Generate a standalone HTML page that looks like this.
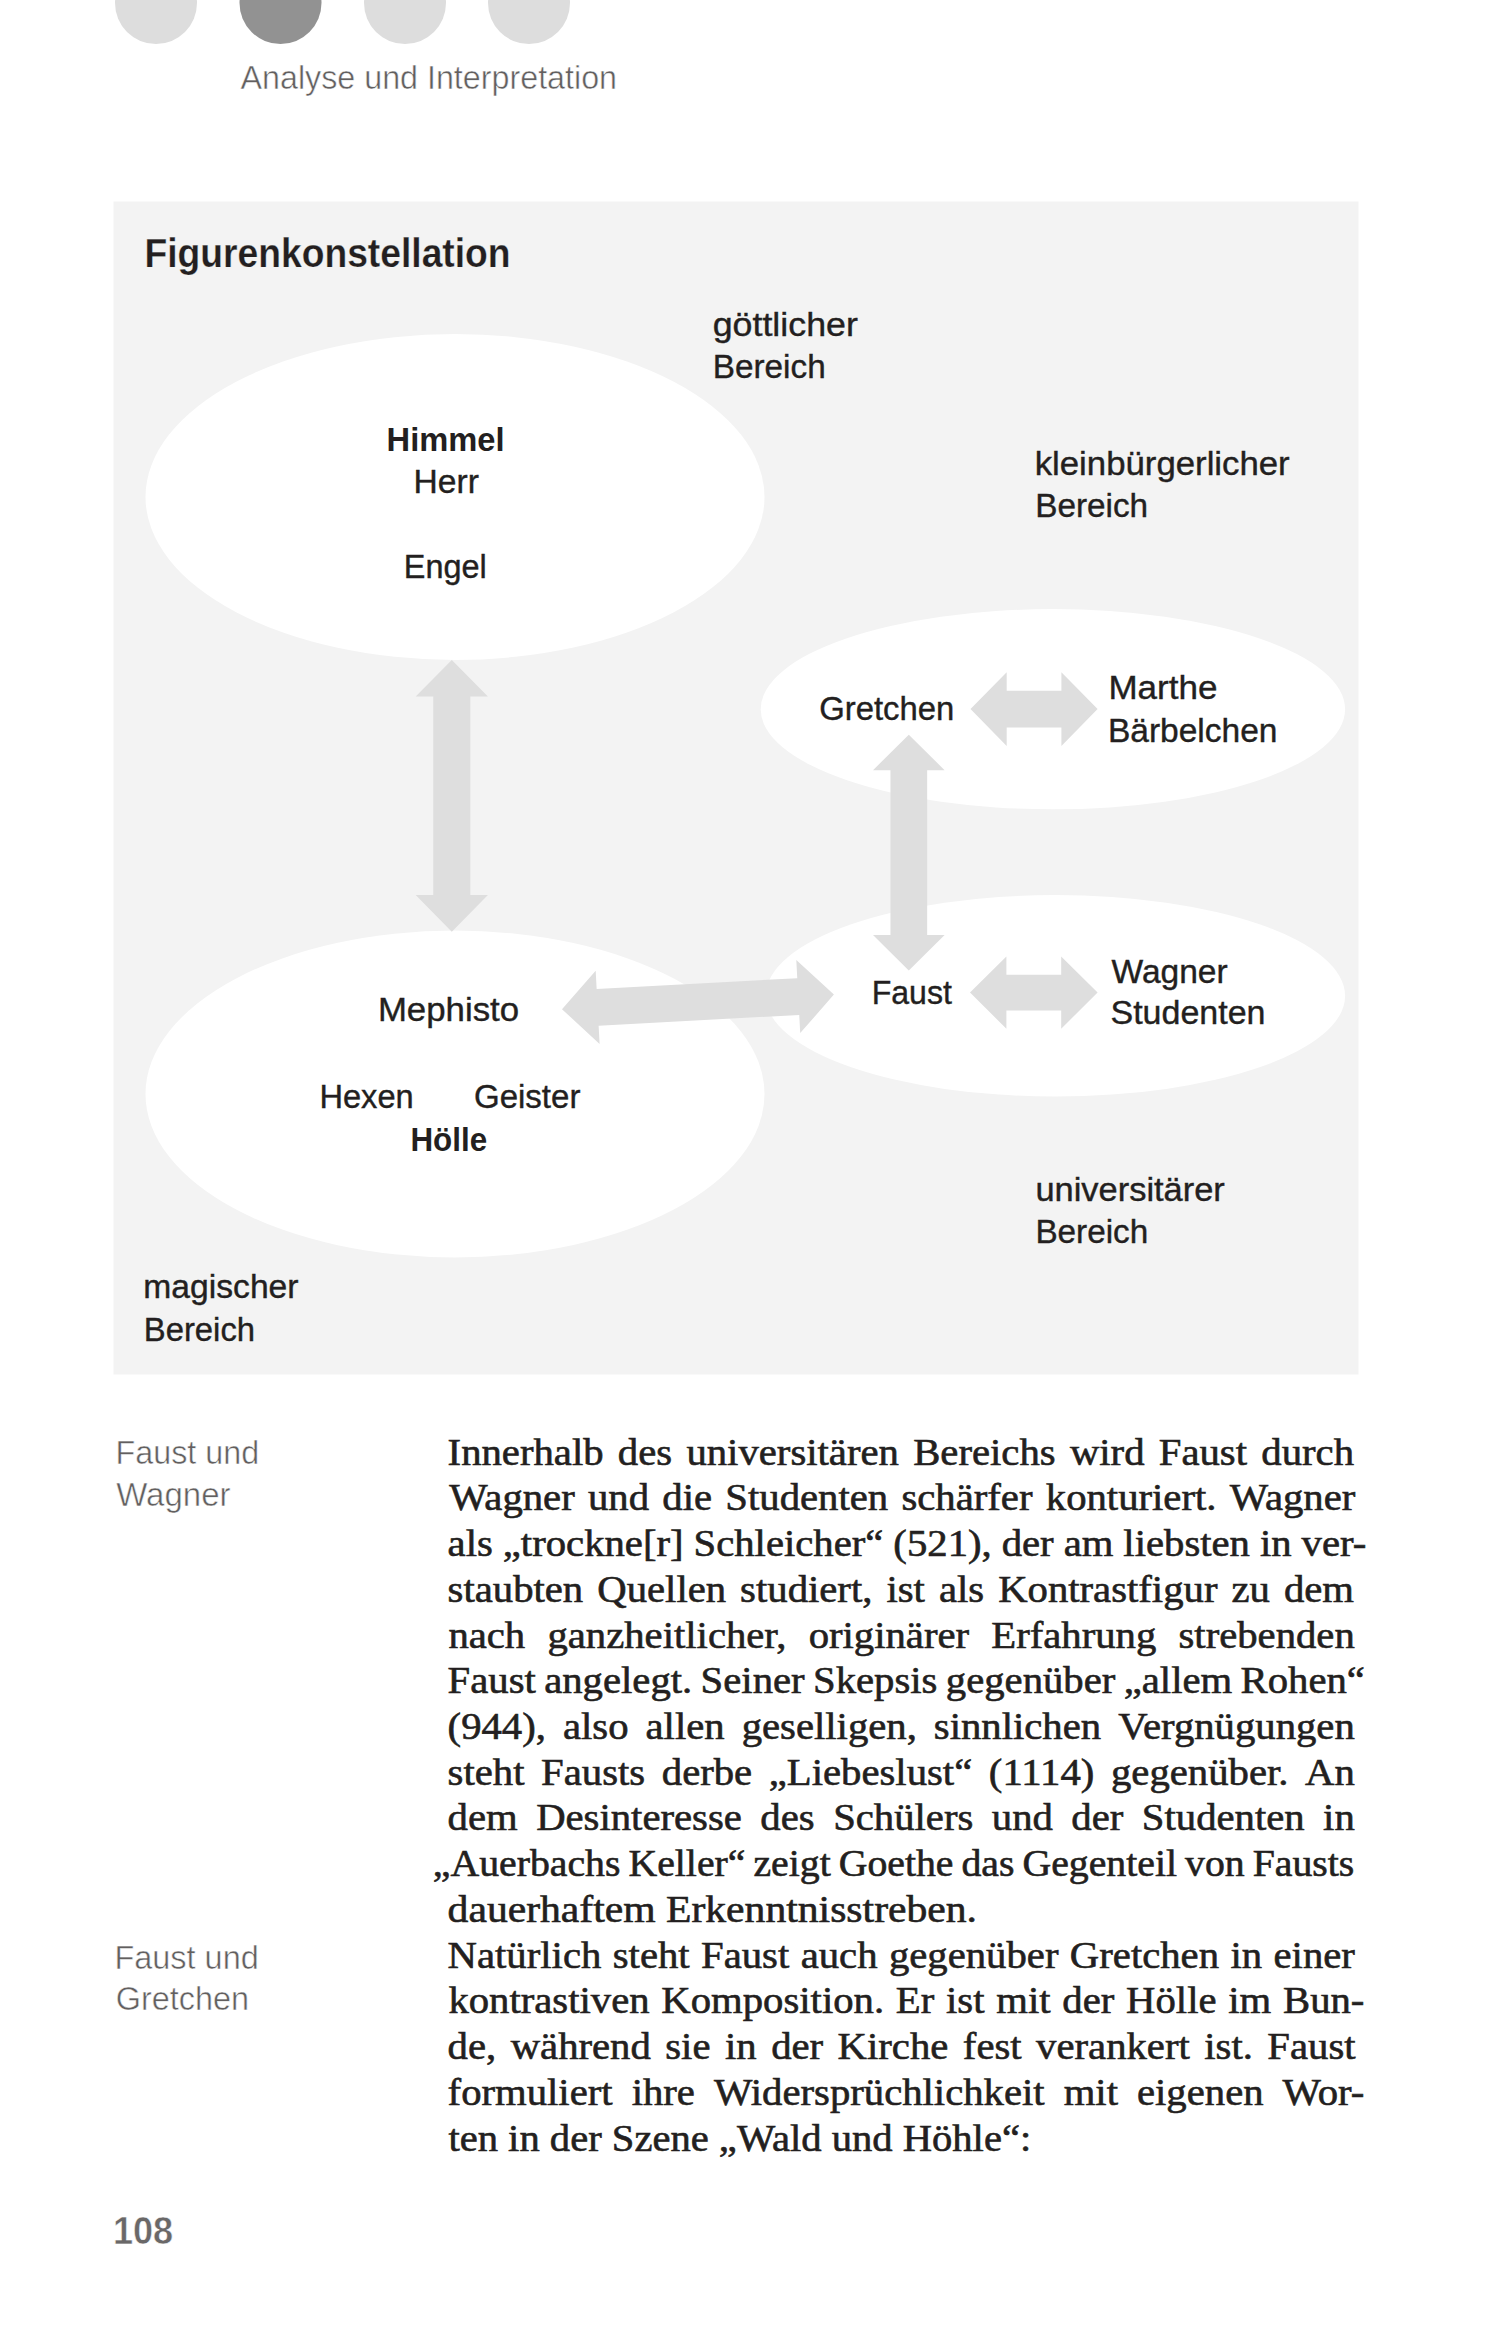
<!DOCTYPE html>
<html lang="de">
<head>
<meta charset="utf-8">
<title>Figurenkonstellation</title>
<style>
html,body{margin:0;padding:0;background:#fff;}
body{width:1496px;height:2334px;position:relative;overflow:hidden;}
svg{position:absolute;left:0;top:0;display:block;}
</style>
</head>
<body>
<svg width="1496" height="2334" viewBox="0 0 1496 2334" font-family="&quot;Liberation Sans&quot;, sans-serif">
<circle cx="156" cy="3" r="41" fill="#dddddd"/>
<circle cx="280.5" cy="3" r="41" fill="#929292"/>
<circle cx="405" cy="3" r="41" fill="#dddddd"/>
<circle cx="529" cy="3" r="41" fill="#dddddd"/>
<rect x="113.5" y="201.5" width="1245.0" height="1173.0" fill="#f3f3f3"/>
<ellipse cx="455" cy="497" rx="309.5" ry="163" fill="#fff"/>
<ellipse cx="1052.9" cy="709.2" rx="292.2" ry="100.1" fill="#fff"/>
<ellipse cx="455" cy="1094" rx="309.5" ry="163.4" fill="#fff"/>
<ellipse cx="1055.4" cy="995.8" rx="289.7" ry="100.75" fill="#fff"/>
<g fill="#dedede">
<polygon transform="translate(451.80,795.85) rotate(90.000)" points="-135.95,0.00 -99.25,-36.10 -99.25,-18.55 99.25,-18.55 99.25,-36.10 135.95,0.00 99.25,36.10 99.25,18.55 -99.25,18.55 -99.25,36.10"/>
<polygon transform="translate(908.80,852.60) rotate(90.000)" points="-117.90,0.00 -82.40,-35.80 -82.40,-18.35 82.40,-18.35 82.40,-35.80 117.90,0.00 82.40,35.80 82.40,18.35 -82.40,18.35 -82.40,35.80"/>
<polygon transform="translate(1034.05,709.10) rotate(0.000)" points="-63.55,0.00 -27.35,-36.85 -27.35,-18.40 27.35,-18.40 27.35,-36.85 63.55,0.00 27.35,36.85 27.35,18.40 -27.35,18.40 -27.35,36.85"/>
<polygon transform="translate(1033.80,992.60) rotate(0.000)" points="-63.80,0.00 -27.40,-36.10 -27.40,-17.80 27.40,-17.80 27.40,-36.10 63.80,0.00 27.40,36.10 27.40,17.80 -27.40,17.80 -27.40,36.10"/>
<polygon transform="translate(697.95,1001.90) rotate(-3.070)" points="-136.15,0.00 -100.45,-36.65 -100.45,-18.40 100.45,-18.40 100.45,-36.65 136.15,0.00 100.45,36.65 100.45,18.40 -100.45,18.40 -100.45,36.65"/>
</g>
<text x="712.70" y="335.80" font-size="34" stroke="#231f20" stroke-width="0.4" fill="#231f20" textLength="145.15" lengthAdjust="spacingAndGlyphs">göttlicher</text>
<text x="712.80" y="377.80" font-size="34" stroke="#231f20" stroke-width="0.4" fill="#231f20" textLength="112.87" lengthAdjust="spacingAndGlyphs">Bereich</text>
<text x="1034.70" y="474.60" font-size="34" stroke="#231f20" stroke-width="0.4" fill="#231f20" textLength="255.02" lengthAdjust="spacingAndGlyphs">kleinbürgerlicher</text>
<text x="1035.20" y="516.70" font-size="34" stroke="#231f20" stroke-width="0.4" fill="#231f20" textLength="112.87" lengthAdjust="spacingAndGlyphs">Bereich</text>
<text x="386.60" y="450.90" font-size="34" font-weight="bold" fill="#231f20" textLength="118.03" lengthAdjust="spacingAndGlyphs">Himmel</text>
<text x="413.60" y="493.00" font-size="34" stroke="#231f20" stroke-width="0.4" fill="#231f20" textLength="65.31" lengthAdjust="spacingAndGlyphs">Herr</text>
<text x="403.80" y="577.50" font-size="34" stroke="#231f20" stroke-width="0.4" fill="#231f20" textLength="82.94" lengthAdjust="spacingAndGlyphs">Engel</text>
<text x="819.20" y="719.80" font-size="34" stroke="#231f20" stroke-width="0.4" fill="#231f20" textLength="135.06" lengthAdjust="spacingAndGlyphs">Gretchen</text>
<text x="1108.40" y="698.80" font-size="34" stroke="#231f20" stroke-width="0.4" fill="#231f20" textLength="109.03" lengthAdjust="spacingAndGlyphs">Marthe</text>
<text x="1107.90" y="741.80" font-size="34" stroke="#231f20" stroke-width="0.4" fill="#231f20" textLength="169.58" lengthAdjust="spacingAndGlyphs">Bärbelchen</text>
<text x="377.90" y="1021.10" font-size="34" stroke="#231f20" stroke-width="0.4" fill="#231f20" textLength="141.15" lengthAdjust="spacingAndGlyphs">Mephisto</text>
<text x="871.70" y="1004.00" font-size="34" stroke="#231f20" stroke-width="0.4" fill="#231f20" textLength="80.23" lengthAdjust="spacingAndGlyphs">Faust</text>
<text x="1111.50" y="982.80" font-size="34" stroke="#231f20" stroke-width="0.4" fill="#231f20" textLength="116.18" lengthAdjust="spacingAndGlyphs">Wagner</text>
<text x="1110.50" y="1024.30" font-size="34" stroke="#231f20" stroke-width="0.4" fill="#231f20" textLength="155.02" lengthAdjust="spacingAndGlyphs">Studenten</text>
<text x="319.40" y="1108.30" font-size="34" stroke="#231f20" stroke-width="0.4" fill="#231f20" textLength="94.27" lengthAdjust="spacingAndGlyphs">Hexen</text>
<text x="474.00" y="1108.30" font-size="34" stroke="#231f20" stroke-width="0.4" fill="#231f20" textLength="106.39" lengthAdjust="spacingAndGlyphs">Geister</text>
<text x="410.40" y="1151.40" font-size="34" font-weight="bold" fill="#231f20" textLength="76.72" lengthAdjust="spacingAndGlyphs">Hölle</text>
<text x="1035.40" y="1200.50" font-size="34" stroke="#231f20" stroke-width="0.4" fill="#231f20" textLength="189.46" lengthAdjust="spacingAndGlyphs">universitärer</text>
<text x="1035.40" y="1243.20" font-size="34" stroke="#231f20" stroke-width="0.4" fill="#231f20" textLength="112.87" lengthAdjust="spacingAndGlyphs">Bereich</text>
<text x="143.30" y="1297.90" font-size="34" stroke="#231f20" stroke-width="0.4" fill="#231f20" textLength="155.23" lengthAdjust="spacingAndGlyphs">magischer</text>
<text x="143.80" y="1340.60" font-size="34" stroke="#231f20" stroke-width="0.4" fill="#231f20" textLength="111.27" lengthAdjust="spacingAndGlyphs">Bereich</text>
<text x="144.40" y="267.20" font-size="40" font-weight="bold" stroke="#f3f3f3" stroke-width="0.25" fill="#231f20" textLength="366.21" lengthAdjust="spacingAndGlyphs">Figurenkonstellation</text>
<text x="240.50" y="89.00" font-size="33" stroke="#ffffff" stroke-width="0.5" fill="#625f5f" textLength="376.54" lengthAdjust="spacingAndGlyphs">Analyse und Interpretation</text>
<text x="115.50" y="1463.90" font-size="33" stroke="#ffffff" stroke-width="0.5" fill="#625f5f" textLength="143.60" lengthAdjust="spacingAndGlyphs">Faust und</text>
<text x="116.20" y="1505.90" font-size="33" stroke="#ffffff" stroke-width="0.5" fill="#625f5f" textLength="114.34" lengthAdjust="spacingAndGlyphs">Wagner</text>
<text x="114.40" y="1968.90" font-size="33" stroke="#ffffff" stroke-width="0.5" fill="#625f5f" textLength="144.40" lengthAdjust="spacingAndGlyphs">Faust und</text>
<text x="115.80" y="2009.50" font-size="33" stroke="#ffffff" stroke-width="0.5" fill="#625f5f" textLength="133.37" lengthAdjust="spacingAndGlyphs">Gretchen</text>
<text x="112.90" y="2243.80" font-size="38" font-weight="bold" stroke="#ffffff" stroke-width="0.5" fill="#6a6868" textLength="60.22" lengthAdjust="spacingAndGlyphs">108</text>
<g font-family="&quot;Liberation Serif&quot;, serif" font-size="37" fill="#231f20" stroke="#231f20" stroke-width="0.6">
<text x="447.60" y="1464.60" textLength="155.96" lengthAdjust="spacingAndGlyphs">Innerhalb</text>
<text x="617.86" y="1464.60" textLength="54.26" lengthAdjust="spacingAndGlyphs">des</text>
<text x="686.42" y="1464.60" textLength="212.49" lengthAdjust="spacingAndGlyphs">universitären</text>
<text x="913.21" y="1464.60" textLength="142.40" lengthAdjust="spacingAndGlyphs">Bereichs</text>
<text x="1069.91" y="1464.60" textLength="74.61" lengthAdjust="spacingAndGlyphs">wird</text>
<text x="1158.82" y="1464.60" textLength="88.21" lengthAdjust="spacingAndGlyphs">Faust</text>
<text x="1261.33" y="1464.60" textLength="92.68" lengthAdjust="spacingAndGlyphs">durch</text>
<text x="449.20" y="1510.33" textLength="125.54" lengthAdjust="spacingAndGlyphs">Wagner</text>
<text x="588.02" y="1510.33" textLength="61.05" lengthAdjust="spacingAndGlyphs">und</text>
<text x="662.36" y="1510.33" textLength="49.72" lengthAdjust="spacingAndGlyphs">die</text>
<text x="725.36" y="1510.33" textLength="162.78" lengthAdjust="spacingAndGlyphs">Studenten</text>
<text x="901.43" y="1510.33" textLength="131.07" lengthAdjust="spacingAndGlyphs">schärfer</text>
<text x="1045.79" y="1510.33" textLength="170.69" lengthAdjust="spacingAndGlyphs">konturiert.</text>
<text x="1229.76" y="1510.33" textLength="125.54" lengthAdjust="spacingAndGlyphs">Wagner</text>
<text x="447.60" y="1556.06" textLength="45.22" lengthAdjust="spacingAndGlyphs">als</text>
<text x="502.80" y="1556.06" textLength="180.80" lengthAdjust="spacingAndGlyphs">„trockne[r]</text>
<text x="693.57" y="1556.06" textLength="189.84" lengthAdjust="spacingAndGlyphs">Schleicher“</text>
<text x="893.38" y="1556.06" textLength="98.35" lengthAdjust="spacingAndGlyphs">(521),</text>
<text x="1001.70" y="1556.06" textLength="51.98" lengthAdjust="spacingAndGlyphs">der</text>
<text x="1063.66" y="1556.06" textLength="49.72" lengthAdjust="spacingAndGlyphs">am</text>
<text x="1123.36" y="1556.06" textLength="126.60" lengthAdjust="spacingAndGlyphs">liebsten</text>
<text x="1259.94" y="1556.06" textLength="31.66" lengthAdjust="spacingAndGlyphs">in</text>
<text x="1301.57" y="1556.06" textLength="64.73" lengthAdjust="spacingAndGlyphs">ver-</text>
<text x="447.60" y="1601.79" textLength="135.64" lengthAdjust="spacingAndGlyphs">staubten</text>
<text x="597.27" y="1601.79" textLength="128.84" lengthAdjust="spacingAndGlyphs">Quellen</text>
<text x="740.13" y="1601.79" textLength="132.28" lengthAdjust="spacingAndGlyphs">studiert,</text>
<text x="886.42" y="1601.79" textLength="38.47" lengthAdjust="spacingAndGlyphs">ist</text>
<text x="938.91" y="1601.79" textLength="45.22" lengthAdjust="spacingAndGlyphs">als</text>
<text x="998.15" y="1601.79" textLength="219.31" lengthAdjust="spacingAndGlyphs">Kontrastfigur</text>
<text x="1231.49" y="1601.79" textLength="38.41" lengthAdjust="spacingAndGlyphs">zu</text>
<text x="1283.93" y="1601.79" textLength="70.07" lengthAdjust="spacingAndGlyphs">dem</text>
<text x="448.40" y="1647.52" textLength="76.83" lengthAdjust="spacingAndGlyphs">nach</text>
<text x="547.41" y="1647.52" textLength="239.06" lengthAdjust="spacingAndGlyphs">ganzheitlicher,</text>
<text x="808.65" y="1647.52" textLength="160.48" lengthAdjust="spacingAndGlyphs">originärer</text>
<text x="991.31" y="1647.52" textLength="165.00" lengthAdjust="spacingAndGlyphs">Erfahrung</text>
<text x="1178.49" y="1647.52" textLength="176.31" lengthAdjust="spacingAndGlyphs">strebenden</text>
<text x="447.60" y="1693.25" textLength="88.21" lengthAdjust="spacingAndGlyphs">Faust</text>
<text x="544.20" y="1693.25" textLength="148.04" lengthAdjust="spacingAndGlyphs">angelegt.</text>
<text x="700.64" y="1693.25" textLength="103.98" lengthAdjust="spacingAndGlyphs">Seiner</text>
<text x="813.02" y="1693.25" textLength="124.40" lengthAdjust="spacingAndGlyphs">Skepsis</text>
<text x="945.82" y="1693.25" textLength="169.50" lengthAdjust="spacingAndGlyphs">gegenüber</text>
<text x="1123.72" y="1693.25" textLength="108.47" lengthAdjust="spacingAndGlyphs">„allem</text>
<text x="1240.58" y="1693.25" textLength="124.32" lengthAdjust="spacingAndGlyphs">Rohen“</text>
<text x="447.60" y="1738.98" textLength="98.35" lengthAdjust="spacingAndGlyphs">(944),</text>
<text x="562.96" y="1738.98" textLength="65.57" lengthAdjust="spacingAndGlyphs">also</text>
<text x="645.54" y="1738.98" textLength="79.10" lengthAdjust="spacingAndGlyphs">allen</text>
<text x="741.65" y="1738.98" textLength="175.19" lengthAdjust="spacingAndGlyphs">geselligen,</text>
<text x="933.85" y="1738.98" textLength="167.30" lengthAdjust="spacingAndGlyphs">sinnlichen</text>
<text x="1118.16" y="1738.98" textLength="236.64" lengthAdjust="spacingAndGlyphs">Vergnügungen</text>
<text x="447.60" y="1784.71" textLength="76.88" lengthAdjust="spacingAndGlyphs">steht</text>
<text x="541.11" y="1784.71" textLength="104.05" lengthAdjust="spacingAndGlyphs">Fausts</text>
<text x="661.79" y="1784.71" textLength="90.39" lengthAdjust="spacingAndGlyphs">derbe</text>
<text x="768.81" y="1784.71" textLength="203.43" lengthAdjust="spacingAndGlyphs">„Liebeslust“</text>
<text x="988.88" y="1784.71" textLength="105.50" lengthAdjust="spacingAndGlyphs">(1114)</text>
<text x="1111.00" y="1784.71" textLength="177.43" lengthAdjust="spacingAndGlyphs">gegenüber.</text>
<text x="1305.06" y="1784.71" textLength="49.74" lengthAdjust="spacingAndGlyphs">An</text>
<text x="447.60" y="1830.44" textLength="70.07" lengthAdjust="spacingAndGlyphs">dem</text>
<text x="536.17" y="1830.44" textLength="205.72" lengthAdjust="spacingAndGlyphs">Desinteresse</text>
<text x="760.39" y="1830.44" textLength="54.26" lengthAdjust="spacingAndGlyphs">des</text>
<text x="833.15" y="1830.44" textLength="140.18" lengthAdjust="spacingAndGlyphs">Schülers</text>
<text x="991.83" y="1830.44" textLength="61.05" lengthAdjust="spacingAndGlyphs">und</text>
<text x="1071.38" y="1830.44" textLength="51.98" lengthAdjust="spacingAndGlyphs">der</text>
<text x="1141.86" y="1830.44" textLength="162.78" lengthAdjust="spacingAndGlyphs">Studenten</text>
<text x="1323.14" y="1830.44" textLength="31.66" lengthAdjust="spacingAndGlyphs">in</text>
<text x="432.80" y="1876.17" textLength="187.65" lengthAdjust="spacingAndGlyphs">„Auerbachs</text>
<text x="628.45" y="1876.17" textLength="116.98" lengthAdjust="spacingAndGlyphs">Keller“</text>
<text x="753.43" y="1876.17" textLength="77.26" lengthAdjust="spacingAndGlyphs">zeigt</text>
<text x="838.69" y="1876.17" textLength="114.80" lengthAdjust="spacingAndGlyphs">Goethe</text>
<text x="961.49" y="1876.17" textLength="53.00" lengthAdjust="spacingAndGlyphs">das</text>
<text x="1022.49" y="1876.17" textLength="154.54" lengthAdjust="spacingAndGlyphs">Gegenteil</text>
<text x="1185.03" y="1876.17" textLength="59.63" lengthAdjust="spacingAndGlyphs">von</text>
<text x="1252.66" y="1876.17" textLength="101.64" lengthAdjust="spacingAndGlyphs">Fausts</text>
<text x="447.60" y="1921.90" textLength="208.02" lengthAdjust="spacingAndGlyphs">dauerhaftem</text>
<text x="666.03" y="1921.90" textLength="310.97" lengthAdjust="spacingAndGlyphs">Erkenntnisstreben.</text>
<text x="447.60" y="1967.63" textLength="153.71" lengthAdjust="spacingAndGlyphs">Natürlich</text>
<text x="612.74" y="1967.63" textLength="76.88" lengthAdjust="spacingAndGlyphs">steht</text>
<text x="701.05" y="1967.63" textLength="88.21" lengthAdjust="spacingAndGlyphs">Faust</text>
<text x="800.69" y="1967.63" textLength="76.83" lengthAdjust="spacingAndGlyphs">auch</text>
<text x="888.94" y="1967.63" textLength="169.50" lengthAdjust="spacingAndGlyphs">gegenüber</text>
<text x="1069.88" y="1967.63" textLength="149.15" lengthAdjust="spacingAndGlyphs">Gretchen</text>
<text x="1230.46" y="1967.63" textLength="31.66" lengthAdjust="spacingAndGlyphs">in</text>
<text x="1273.55" y="1967.63" textLength="81.35" lengthAdjust="spacingAndGlyphs">einer</text>
<text x="448.40" y="2013.36" textLength="201.21" lengthAdjust="spacingAndGlyphs">kontrastiven</text>
<text x="661.38" y="2013.36" textLength="222.75" lengthAdjust="spacingAndGlyphs">Komposition.</text>
<text x="895.89" y="2013.36" textLength="38.41" lengthAdjust="spacingAndGlyphs">Er</text>
<text x="946.07" y="2013.36" textLength="38.47" lengthAdjust="spacingAndGlyphs">ist</text>
<text x="996.30" y="2013.36" textLength="54.28" lengthAdjust="spacingAndGlyphs">mit</text>
<text x="1062.34" y="2013.36" textLength="51.98" lengthAdjust="spacingAndGlyphs">der</text>
<text x="1126.08" y="2013.36" textLength="90.42" lengthAdjust="spacingAndGlyphs">Hölle</text>
<text x="1228.27" y="2013.36" textLength="42.97" lengthAdjust="spacingAndGlyphs">im</text>
<text x="1283.00" y="2013.36" textLength="81.40" lengthAdjust="spacingAndGlyphs">Bun-</text>
<text x="447.60" y="2059.09" textLength="48.59" lengthAdjust="spacingAndGlyphs">de,</text>
<text x="510.68" y="2059.09" textLength="140.13" lengthAdjust="spacingAndGlyphs">während</text>
<text x="665.29" y="2059.09" textLength="45.22" lengthAdjust="spacingAndGlyphs">sie</text>
<text x="725.00" y="2059.09" textLength="31.66" lengthAdjust="spacingAndGlyphs">in</text>
<text x="771.15" y="2059.09" textLength="51.98" lengthAdjust="spacingAndGlyphs">der</text>
<text x="837.61" y="2059.09" textLength="110.74" lengthAdjust="spacingAndGlyphs">Kirche</text>
<text x="962.84" y="2059.09" textLength="58.78" lengthAdjust="spacingAndGlyphs">fest</text>
<text x="1036.11" y="2059.09" textLength="153.67" lengthAdjust="spacingAndGlyphs">verankert</text>
<text x="1204.27" y="2059.09" textLength="48.64" lengthAdjust="spacingAndGlyphs">ist.</text>
<text x="1267.39" y="2059.09" textLength="88.21" lengthAdjust="spacingAndGlyphs">Faust</text>
<text x="447.60" y="2104.82" textLength="165.03" lengthAdjust="spacingAndGlyphs">formuliert</text>
<text x="631.67" y="2104.82" textLength="63.28" lengthAdjust="spacingAndGlyphs">ihre</text>
<text x="713.99" y="2104.82" textLength="330.65" lengthAdjust="spacingAndGlyphs">Widersprüchlichkeit</text>
<text x="1063.68" y="2104.82" textLength="54.28" lengthAdjust="spacingAndGlyphs">mit</text>
<text x="1137.00" y="2104.82" textLength="126.55" lengthAdjust="spacingAndGlyphs">eigenen</text>
<text x="1282.59" y="2104.82" textLength="81.81" lengthAdjust="spacingAndGlyphs">Wor-</text>
<text x="448.40" y="2150.55" textLength="49.59" lengthAdjust="spacingAndGlyphs">ten</text>
<text x="508.13" y="2150.55" textLength="31.57" lengthAdjust="spacingAndGlyphs">in</text>
<text x="549.85" y="2150.55" textLength="51.83" lengthAdjust="spacingAndGlyphs">der</text>
<text x="611.83" y="2150.55" textLength="96.91" lengthAdjust="spacingAndGlyphs">Szene</text>
<text x="718.89" y="2150.55" textLength="102.65" lengthAdjust="spacingAndGlyphs">„Wald</text>
<text x="831.69" y="2150.55" textLength="60.88" lengthAdjust="spacingAndGlyphs">und</text>
<text x="902.72" y="2150.55" textLength="128.48" lengthAdjust="spacingAndGlyphs">Höhle“:</text>
</g>
</svg>
</body>
</html>
